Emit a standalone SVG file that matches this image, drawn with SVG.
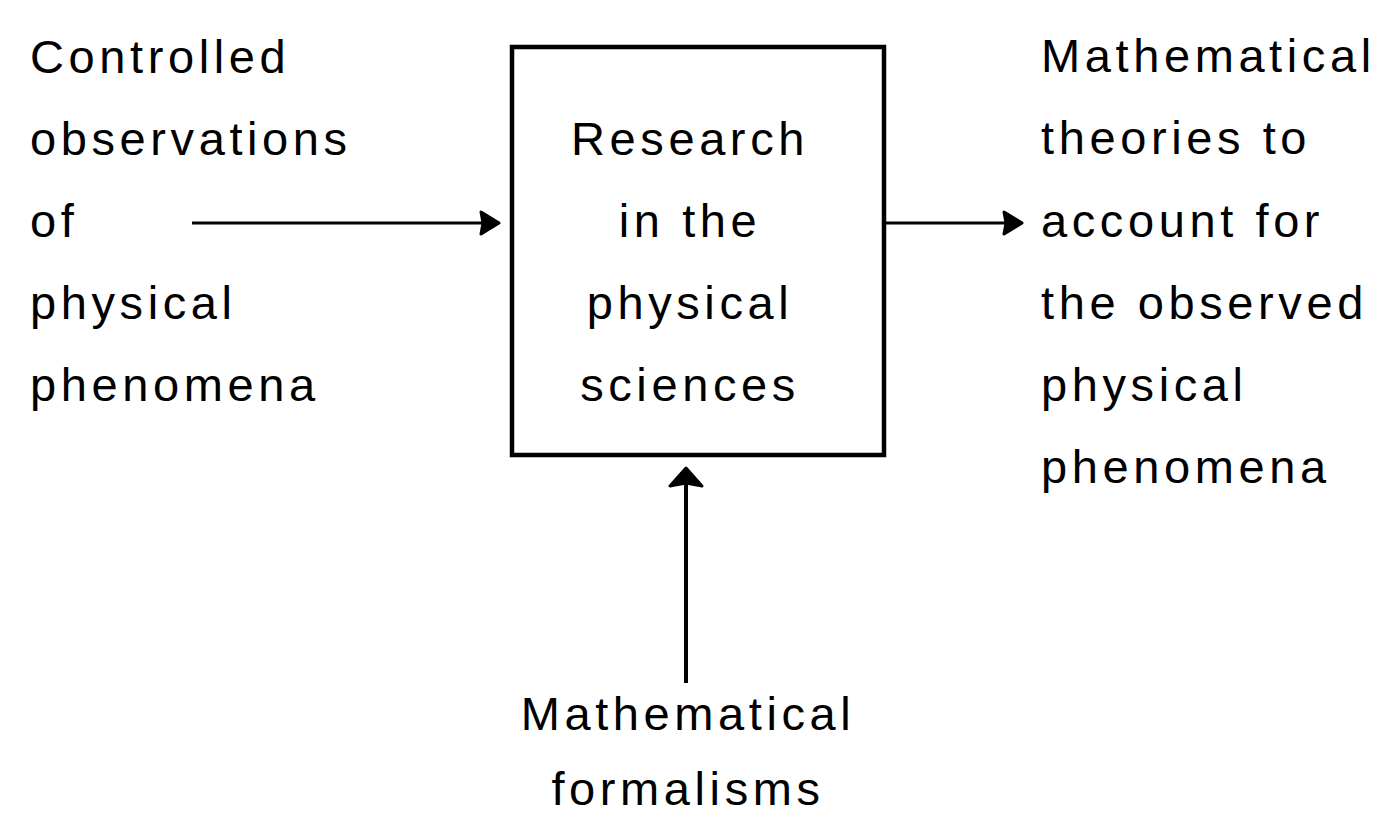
<svg xmlns="http://www.w3.org/2000/svg" width="1384" height="826" viewBox="0 0 1384 826">
<style>
.t{font-family:"Liberation Sans",Arial,sans-serif;font-size:47px;letter-spacing:4.6px;fill:#000}
.m{text-anchor:middle}
.ln{stroke:#000;fill:none}
</style>
<defs>
<marker id="hs" markerUnits="userSpaceOnUse" viewBox="-24 -16 26 32" refX="0" refY="0" markerWidth="26" markerHeight="32" orient="auto">
<path d="M0,0 L-18,-11 L-16,0 L-18,11 Z" fill="#000" stroke="#000" stroke-width="3" stroke-linejoin="round"/>
</marker>
<marker id="hw" markerUnits="userSpaceOnUse" viewBox="-26 -22 28 44" refX="0" refY="0" markerWidth="28" markerHeight="44" orient="auto">
<path d="M0,0 L-18,-16 L-15,0 L-18,16 Z" fill="#000" stroke="#000" stroke-width="3" stroke-linejoin="round"/>
</marker>
</defs>
<rect width="1384" height="826" fill="#fff"/>
<g id="input">
<text class="t" x="30" y="73">Controlled</text>
<text class="t" x="30" y="155">observations</text>
<text class="t" x="30" y="237">of</text>
<text class="t" x="30" y="319">physical</text>
<text class="t" x="30" y="401">phenomena</text>
</g>
<g id="research">
<rect x="512" y="47" width="372" height="408" fill="none" stroke="#000" stroke-width="4.5"/>
<text class="t m" x="690" y="155">Research</text>
<text class="t m" x="690" y="237">in the</text>
<text class="t m" x="690" y="319">physical</text>
<text class="t m" x="690" y="401">sciences</text>
</g>
<g id="output">
<text class="t" x="1041" y="72">Mathematical</text>
<text class="t" x="1041" y="154">theories to</text>
<text class="t" x="1041" y="237">account for</text>
<text class="t" x="1041" y="319">the observed</text>
<text class="t" x="1041" y="401">physical</text>
<text class="t" x="1041" y="483">phenomena</text>
</g>
<g id="formalisms">
<text class="t m" x="688" y="730">Mathematical</text>
<text class="t m" x="688" y="805">formalisms</text>
</g>
<g id="connectors">
<line class="ln" x1="192" y1="223" x2="499" y2="223" stroke-width="3" marker-end="url(#hs)"/>
<line class="ln" x1="886" y1="223" x2="1022" y2="223" stroke-width="3" marker-end="url(#hs)"/>
<line class="ln" x1="686" y1="683" x2="686" y2="468" stroke-width="4" marker-end="url(#hw)"/>
</g>
</svg>
